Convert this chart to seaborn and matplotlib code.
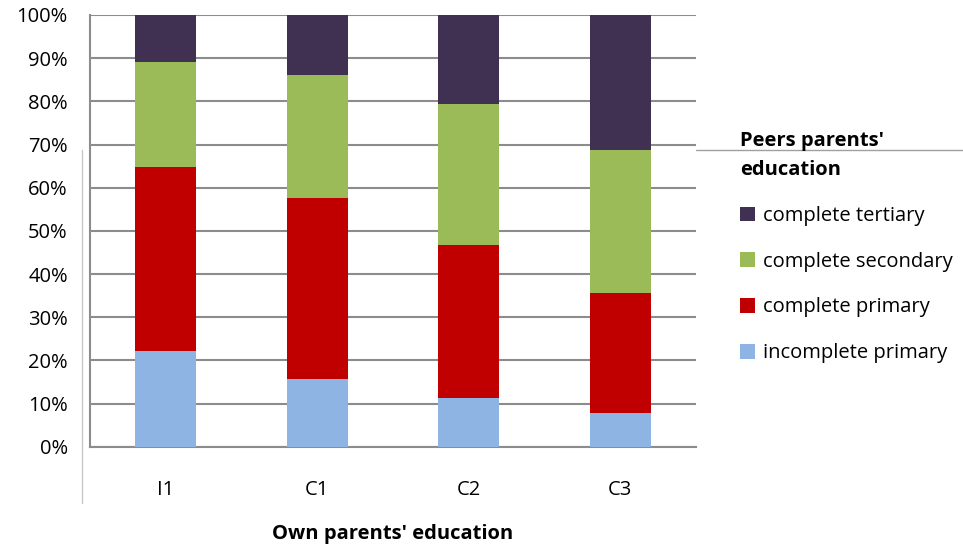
"""
Stacked 100% bars: peers' parents' education by own parents' education.
"""

import matplotlib.pyplot as plt
import seaborn as sns
import numpy as np
from matplotlib.lines import Line2D
from matplotlib.patches import Patch

sns.set_style("white")
plt.rcParams['font.family'] = ['Open Sans', 'DejaVu Sans']
plt.rcParams['text.color'] = 'black'
plt.rcParams['xtick.labelcolor'] = 'black'
plt.rcParams['ytick.labelcolor'] = 'black'
plt.rcParams['axes.labelcolor'] = 'black'

# Data (shares in %)
groups = ['I1', 'C1', 'C2', 'C3']
incomplete_primary = [22.2, 15.7, 11.2, 7.9]
complete_primary = [42.6, 42.0, 35.5, 27.8]
complete_secondary = [24.4, 28.3, 32.6, 33.0]
complete_tertiary = [10.8, 14.0, 20.7, 31.3]

series = ['complete tertiary', 'complete secondary', 'complete primary', 'incomplete primary']
colors = {
    'incomplete primary': '#8eb4e3',
    'complete primary': '#c00000',
    'complete secondary': '#9bbb59',
    'complete tertiary': '#403152',
}

grid_color = '#8c8c8c'
fs = 14.5

fig = plt.figure(figsize=(9.63, 5.48), dpi=100)
ax = fig.add_axes([90 / 963, 1 - 446.7 / 548, 606 / 963, 431.7 / 548])

# cumulative tops, drawn largest first so each layer covers the one before
stack = np.array([incomplete_primary, complete_primary, complete_secondary, complete_tertiary])
cum = np.cumsum(stack, axis=0)
layer_names = ['incomplete primary', 'complete primary', 'complete secondary', 'complete tertiary']
for i in range(3, -1, -1):
    sns.barplot(x=groups, y=cum[i], color=colors[layer_names[i]], width=0.4,
                saturation=1, ax=ax, zorder=3, linewidth=0)

ax.set_ylim(0, 100)
ax.set_xlim(-0.5, 3.5)
ax.set_yticks(np.arange(0, 101, 10))
ax.set_yticklabels([f'{v}%' for v in range(0, 101, 10)], fontsize=fs)
ax.yaxis.grid(True, color=grid_color, linewidth=1.5, zorder=0)
ax.set_axisbelow(True)

# category boundaries as major ticks, labels on minor ticks
ax.set_xticks(np.arange(-0.5, 4, 1))
ax.set_xticklabels([])
ax.set_xticks(range(len(groups)), minor=True)
ax.set_xticklabels(groups, minor=True, fontsize=fs)
ax.tick_params(axis='x', which='major', length=8, width=1.5, color=grid_color, direction='out')
ax.tick_params(axis='x', which='minor', length=0, pad=24)
ax.tick_params(axis='y', length=6, width=1.5, color=grid_color, direction='out', pad=10)

for side in ['top', 'right']:
    ax.spines[side].set_visible(False)
for side in ['left', 'bottom']:
    ax.spines[side].set_color(grid_color)
    ax.spines[side].set_linewidth(1.5)

ax.set_xlabel("Own parents' education", fontsize=fs, fontweight='bold')
ax.xaxis.set_label_coords(0.5, -(524 - 446.7) / 431.7)
ax.set_ylabel('')

# legend
handles = [Patch(facecolor=colors[s], edgecolor='none', label=s) for s in series]
leg = fig.legend(handles=handles, loc='upper left', bbox_to_anchor=(722 / 963, 1 - 113 / 548),
                 frameon=False, fontsize=fs, title="Peers parents'\neducation",
                 title_fontproperties={'weight': 'bold', 'size': fs},
                 handlelength=0.75, handleheight=0.75, handletextpad=0.4,
                 labelspacing=1.28, alignment='left')
leg.get_title().set_linespacing(1.6)

# stray frame lines from the original layout
fig.add_artist(Line2D([81.5 / 963, 81.5 / 963], [1 - 150 / 548, 1 - 503 / 548],
                      color='#c8c8c8', linewidth=1))
fig.add_artist(Line2D([696 / 963, 1.0], [1 - 149.5 / 548, 1 - 149.5 / 548],
                      color='#a0a0a0', linewidth=1))

plt.savefig('out.png', dpi=100)
plt.close()
